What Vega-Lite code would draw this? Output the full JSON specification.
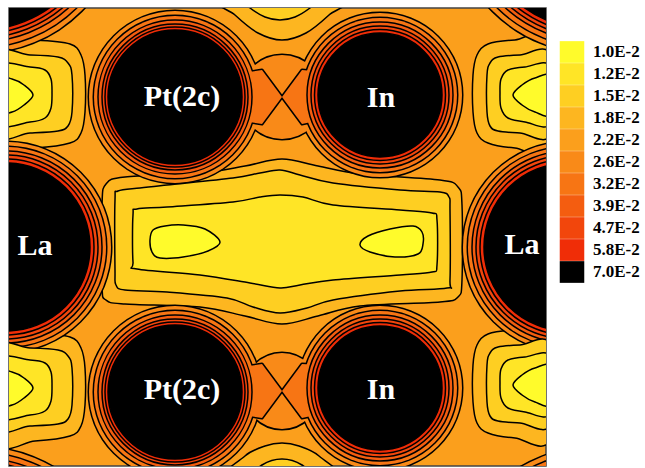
{
"$schema":"https://vega.github.io/schema/vega-lite/v6.json",
"width":537,"height":458,
"autosize":"none",
"padding":{"left":9,"top":8,"right":99,"bottom":2},
"background":"white",
"config":{"view":{"fill":"#FB9F1C","stroke":"#444","strokeWidth":1.5},
"legend":{"orient":"none","legendX":552,"legendY":33,"title":null,"symbolType":"M-1.13,-1H1.13V1H-1.13Z","symbolSize":471,"symbolStrokeWidth":0,"symbolOpacity":1,"rowPadding":0,"labelFont":"Liberation Serif","labelFontWeight":"bold","labelFontSize":17,"labelColor":"#000","labelOffset":10,"padding":0,"labelLimit":200}},
"datasets":{
"rings":[
{"lev":"2.6E-2","x":175,"y":97,"r":86},{"lev":"2.6E-2","x":380,"y":95,"r":82},{"lev":"2.6E-2","x":175,"y":392,"r":86},{"lev":"2.6E-2","x":380,"y":388,"r":82},
{"lev":"2.6E-2","x":6,"y":247,"r":105},{"lev":"2.6E-2","x":568,"y":247,"r":105},
{"lev":"2.6E-2","x":-20,"y":-90,"r":143},{"lev":"2.6E-2","x":-20,"y":590,"r":143},{"lev":"2.6E-2","x":594,"y":-90,"r":143},{"lev":"2.6E-2","x":594,"y":590,"r":143},
{"lev":"2.6E-2","x":282,"y":97,"r":42},{"lev":"2.6E-2","x":282,"y":391,"r":38},
{"lev":"3.2E-2","x":175,"y":97,"r":81},{"lev":"3.2E-2","x":380,"y":95,"r":77},{"lev":"3.2E-2","x":175,"y":392,"r":81},{"lev":"3.2E-2","x":380,"y":388,"r":77},
{"lev":"3.2E-2","x":6,"y":247,"r":100},{"lev":"3.2E-2","x":568,"y":247,"r":100},
{"lev":"3.2E-2","x":-20,"y":-90,"r":137},{"lev":"3.2E-2","x":-20,"y":590,"r":137},{"lev":"3.2E-2","x":594,"y":-90,"r":137},{"lev":"3.2E-2","x":594,"y":590,"r":137},
{"lev":"3.9E-2","x":175,"y":97,"r":77},{"lev":"3.9E-2","x":380,"y":95,"r":73},{"lev":"3.9E-2","x":175,"y":392,"r":77},{"lev":"3.9E-2","x":380,"y":388,"r":73},
{"lev":"3.9E-2","x":6,"y":247,"r":96},{"lev":"3.9E-2","x":568,"y":247,"r":96},
{"lev":"3.9E-2","x":-20,"y":-90,"r":132},{"lev":"3.9E-2","x":-20,"y":590,"r":132},{"lev":"3.9E-2","x":594,"y":-90,"r":132},{"lev":"3.9E-2","x":594,"y":590,"r":132},
{"lev":"4.7E-2","x":175,"y":97,"r":73},{"lev":"4.7E-2","x":380,"y":95,"r":69},{"lev":"4.7E-2","x":175,"y":392,"r":73},{"lev":"4.7E-2","x":380,"y":388,"r":69},
{"lev":"4.7E-2","x":6,"y":247,"r":92},{"lev":"4.7E-2","x":568,"y":247,"r":92},
{"lev":"4.7E-2","x":-20,"y":-90,"r":128},{"lev":"4.7E-2","x":-20,"y":590,"r":128},{"lev":"4.7E-2","x":594,"y":-90,"r":128},{"lev":"4.7E-2","x":594,"y":590,"r":128},
{"lev":"5.8E-2","x":175,"y":97,"r":70},{"lev":"5.8E-2","x":380,"y":95,"r":65.5},{"lev":"5.8E-2","x":175,"y":392,"r":70},{"lev":"5.8E-2","x":380,"y":388,"r":65.5},
{"lev":"5.8E-2","x":6,"y":247,"r":88},{"lev":"5.8E-2","x":568,"y":247,"r":88},
{"lev":"5.8E-2","x":-20,"y":-90,"r":124},{"lev":"5.8E-2","x":-20,"y":590,"r":124},{"lev":"5.8E-2","x":594,"y":-90,"r":124},{"lev":"5.8E-2","x":594,"y":590,"r":124},
{"lev":"7.0E-2","x":175,"y":97,"r":67},{"lev":"7.0E-2","x":380,"y":95,"r":62},{"lev":"7.0E-2","x":175,"y":392,"r":67},{"lev":"7.0E-2","x":380,"y":388,"r":62},
{"lev":"7.0E-2","x":6,"y":247,"r":84},{"lev":"7.0E-2","x":568,"y":247,"r":84},
{"lev":"7.0E-2","x":-20,"y":-90,"r":120},{"lev":"7.0E-2","x":-20,"y":590,"r":120},{"lev":"7.0E-2","x":594,"y":-90,"r":120},{"lev":"7.0E-2","x":594,"y":590,"r":120}
],
"polys":[
{"id":"W1","lev":"3.2E-2","i":0,"x":230,"y":75},{"id":"W1","lev":"3.2E-2","i":1,"x":262,"y":70},{"id":"W1","lev":"3.2E-2","i":2,"x":282,"y":97},{"id":"W1","lev":"3.2E-2","i":3,"x":262,"y":124},{"id":"W1","lev":"3.2E-2","i":4,"x":230,"y":119},
{"id":"W2","lev":"3.2E-2","i":0,"x":334,"y":73},{"id":"W2","lev":"3.2E-2","i":1,"x":302,"y":70},{"id":"W2","lev":"3.2E-2","i":2,"x":282,"y":97},{"id":"W2","lev":"3.2E-2","i":3,"x":302,"y":124},{"id":"W2","lev":"3.2E-2","i":4,"x":334,"y":117},
{"id":"W3","lev":"3.2E-2","i":0,"x":230,"y":369},{"id":"W3","lev":"3.2E-2","i":1,"x":262,"y":364},{"id":"W3","lev":"3.2E-2","i":2,"x":282,"y":391},{"id":"W3","lev":"3.2E-2","i":3,"x":262,"y":418},{"id":"W3","lev":"3.2E-2","i":4,"x":230,"y":413},
{"id":"W4","lev":"3.2E-2","i":0,"x":334,"y":366},{"id":"W4","lev":"3.2E-2","i":1,"x":302,"y":364},{"id":"W4","lev":"3.2E-2","i":2,"x":282,"y":391},{"id":"W4","lev":"3.2E-2","i":3,"x":302,"y":418},{"id":"W4","lev":"3.2E-2","i":4,"x":334,"y":411},

{"id":"B18","lev":"1.8E-2","i":0,"x":102,"y":205},{"id":"B18","lev":"1.8E-2","i":1,"x":106,"y":184},{"id":"B18","lev":"1.8E-2","i":2,"x":125,"y":177},{"id":"B18","lev":"1.8E-2","i":3,"x":200,"y":173},{"id":"B18","lev":"1.8E-2","i":4,"x":245,"y":166},{"id":"B18","lev":"1.8E-2","i":5,"x":282,"y":159},{"id":"B18","lev":"1.8E-2","i":6,"x":318,"y":166},{"id":"B18","lev":"1.8E-2","i":7,"x":360,"y":174},{"id":"B18","lev":"1.8E-2","i":8,"x":440,"y":180},{"id":"B18","lev":"1.8E-2","i":9,"x":458,"y":187},{"id":"B18","lev":"1.8E-2","i":10,"x":462,"y":205},{"id":"B18","lev":"1.8E-2","i":11,"x":462,"y":280},{"id":"B18","lev":"1.8E-2","i":12,"x":458,"y":297},{"id":"B18","lev":"1.8E-2","i":13,"x":440,"y":302},{"id":"B18","lev":"1.8E-2","i":14,"x":360,"y":306},{"id":"B18","lev":"1.8E-2","i":15,"x":318,"y":316},{"id":"B18","lev":"1.8E-2","i":16,"x":282,"y":324},{"id":"B18","lev":"1.8E-2","i":17,"x":245,"y":316},{"id":"B18","lev":"1.8E-2","i":18,"x":200,"y":307},{"id":"B18","lev":"1.8E-2","i":19,"x":125,"y":304},{"id":"B18","lev":"1.8E-2","i":20,"x":106,"y":300},{"id":"B18","lev":"1.8E-2","i":21,"x":102,"y":285},
{"id":"LU18","lev":"1.8E-2","i":0,"x":-5,"y":40},{"id":"LU18","lev":"1.8E-2","i":1,"x":35,"y":40},{"id":"LU18","lev":"1.8E-2","i":2,"x":70,"y":44},{"id":"LU18","lev":"1.8E-2","i":3,"x":81,"y":55},{"id":"LU18","lev":"1.8E-2","i":4,"x":85,"y":75},{"id":"LU18","lev":"1.8E-2","i":5,"x":85,"y":112},{"id":"LU18","lev":"1.8E-2","i":6,"x":81,"y":133},{"id":"LU18","lev":"1.8E-2","i":7,"x":70,"y":143},{"id":"LU18","lev":"1.8E-2","i":8,"x":35,"y":148},{"id":"LU18","lev":"1.8E-2","i":9,"x":-5,"y":148},
{"id":"LL18","lev":"1.8E-2","i":0,"x":-5,"y":333},{"id":"LL18","lev":"1.8E-2","i":1,"x":35,"y":333},{"id":"LL18","lev":"1.8E-2","i":2,"x":70,"y":337},{"id":"LL18","lev":"1.8E-2","i":3,"x":81,"y":348},{"id":"LL18","lev":"1.8E-2","i":4,"x":85,"y":368},{"id":"LL18","lev":"1.8E-2","i":5,"x":85,"y":405},{"id":"LL18","lev":"1.8E-2","i":6,"x":81,"y":426},{"id":"LL18","lev":"1.8E-2","i":7,"x":70,"y":436},{"id":"LL18","lev":"1.8E-2","i":8,"x":35,"y":441},{"id":"LL18","lev":"1.8E-2","i":9,"x":-5,"y":441},
{"id":"RU18","lev":"1.8E-2","i":0,"x":551,"y":40},{"id":"RU18","lev":"1.8E-2","i":1,"x":515,"y":40},{"id":"RU18","lev":"1.8E-2","i":2,"x":488,"y":44},{"id":"RU18","lev":"1.8E-2","i":3,"x":477,"y":55},{"id":"RU18","lev":"1.8E-2","i":4,"x":473,"y":75},{"id":"RU18","lev":"1.8E-2","i":5,"x":473,"y":112},{"id":"RU18","lev":"1.8E-2","i":6,"x":477,"y":133},{"id":"RU18","lev":"1.8E-2","i":7,"x":488,"y":143},{"id":"RU18","lev":"1.8E-2","i":8,"x":515,"y":148},{"id":"RU18","lev":"1.8E-2","i":9,"x":551,"y":148},
{"id":"RL18","lev":"1.8E-2","i":0,"x":551,"y":330},{"id":"RL18","lev":"1.8E-2","i":1,"x":515,"y":330},{"id":"RL18","lev":"1.8E-2","i":2,"x":488,"y":334},{"id":"RL18","lev":"1.8E-2","i":3,"x":477,"y":345},{"id":"RL18","lev":"1.8E-2","i":4,"x":473,"y":365},{"id":"RL18","lev":"1.8E-2","i":5,"x":473,"y":402},{"id":"RL18","lev":"1.8E-2","i":6,"x":477,"y":423},{"id":"RL18","lev":"1.8E-2","i":7,"x":488,"y":433},{"id":"RL18","lev":"1.8E-2","i":8,"x":515,"y":438},{"id":"RL18","lev":"1.8E-2","i":9,"x":551,"y":438},
{"id":"T18","lev":"1.8E-2","i":0,"x":220,"y":-2},{"id":"T18","lev":"1.8E-2","i":1,"x":235,"y":15},{"id":"T18","lev":"1.8E-2","i":2,"x":258,"y":33},{"id":"T18","lev":"1.8E-2","i":3,"x":282,"y":40},{"id":"T18","lev":"1.8E-2","i":4,"x":306,"y":33},{"id":"T18","lev":"1.8E-2","i":5,"x":329,"y":15},{"id":"T18","lev":"1.8E-2","i":6,"x":344,"y":-2},
{"id":"Bt18","lev":"1.8E-2","i":0,"x":230,"y":478},{"id":"Bt18","lev":"1.8E-2","i":1,"x":245,"y":456},{"id":"Bt18","lev":"1.8E-2","i":2,"x":265,"y":446},{"id":"Bt18","lev":"1.8E-2","i":3,"x":282,"y":443},{"id":"Bt18","lev":"1.8E-2","i":4,"x":299,"y":446},{"id":"Bt18","lev":"1.8E-2","i":5,"x":319,"y":456},{"id":"Bt18","lev":"1.8E-2","i":6,"x":334,"y":478},

{"id":"LU15","lev":"1.5E-2","i":0,"x":-5,"y":55},{"id":"LU15","lev":"1.5E-2","i":1,"x":30,"y":55},{"id":"LU15","lev":"1.5E-2","i":2,"x":58,"y":57},{"id":"LU15","lev":"1.5E-2","i":3,"x":68,"y":63},{"id":"LU15","lev":"1.5E-2","i":4,"x":72,"y":75},{"id":"LU15","lev":"1.5E-2","i":5,"x":72,"y":112},{"id":"LU15","lev":"1.5E-2","i":6,"x":68,"y":126},{"id":"LU15","lev":"1.5E-2","i":7,"x":58,"y":131},{"id":"LU15","lev":"1.5E-2","i":8,"x":30,"y":133},{"id":"LU15","lev":"1.5E-2","i":9,"x":-5,"y":134},
{"id":"LL15","lev":"1.5E-2","i":0,"x":-5,"y":348},{"id":"LL15","lev":"1.5E-2","i":1,"x":30,"y":348},{"id":"LL15","lev":"1.5E-2","i":2,"x":58,"y":350},{"id":"LL15","lev":"1.5E-2","i":3,"x":68,"y":356},{"id":"LL15","lev":"1.5E-2","i":4,"x":72,"y":368},{"id":"LL15","lev":"1.5E-2","i":5,"x":72,"y":405},{"id":"LL15","lev":"1.5E-2","i":6,"x":68,"y":419},{"id":"LL15","lev":"1.5E-2","i":7,"x":58,"y":424},{"id":"LL15","lev":"1.5E-2","i":8,"x":30,"y":426},{"id":"LL15","lev":"1.5E-2","i":9,"x":-5,"y":427},
{"id":"RU15","lev":"1.5E-2","i":0,"x":551,"y":55},{"id":"RU15","lev":"1.5E-2","i":1,"x":520,"y":55},{"id":"RU15","lev":"1.5E-2","i":2,"x":498,"y":57},{"id":"RU15","lev":"1.5E-2","i":3,"x":490,"y":63},{"id":"RU15","lev":"1.5E-2","i":4,"x":487,"y":75},{"id":"RU15","lev":"1.5E-2","i":5,"x":487,"y":112},{"id":"RU15","lev":"1.5E-2","i":6,"x":490,"y":126},{"id":"RU15","lev":"1.5E-2","i":7,"x":498,"y":131},{"id":"RU15","lev":"1.5E-2","i":8,"x":520,"y":133},{"id":"RU15","lev":"1.5E-2","i":9,"x":551,"y":134},
{"id":"RL15","lev":"1.5E-2","i":0,"x":551,"y":345},{"id":"RL15","lev":"1.5E-2","i":1,"x":520,"y":345},{"id":"RL15","lev":"1.5E-2","i":2,"x":498,"y":347},{"id":"RL15","lev":"1.5E-2","i":3,"x":490,"y":353},{"id":"RL15","lev":"1.5E-2","i":4,"x":487,"y":365},{"id":"RL15","lev":"1.5E-2","i":5,"x":487,"y":402},{"id":"RL15","lev":"1.5E-2","i":6,"x":490,"y":416},{"id":"RL15","lev":"1.5E-2","i":7,"x":498,"y":421},{"id":"RL15","lev":"1.5E-2","i":8,"x":520,"y":423},{"id":"RL15","lev":"1.5E-2","i":9,"x":551,"y":424},
{"id":"B","lev":"1.5E-2","i":0,"x":115,"y":200},{"id":"B","lev":"1.5E-2","i":1,"x":118,"y":191},{"id":"B","lev":"1.5E-2","i":2,"x":140,"y":188},{"id":"B","lev":"1.5E-2","i":3,"x":167,"y":185},{"id":"B","lev":"1.5E-2","i":4,"x":233,"y":178},{"id":"B","lev":"1.5E-2","i":5,"x":260,"y":173},{"id":"B","lev":"1.5E-2","i":6,"x":280,"y":170},{"id":"B","lev":"1.5E-2","i":7,"x":300,"y":175},{"id":"B","lev":"1.5E-2","i":8,"x":333,"y":183},{"id":"B","lev":"1.5E-2","i":9,"x":400,"y":190},{"id":"B","lev":"1.5E-2","i":10,"x":440,"y":192},{"id":"B","lev":"1.5E-2","i":11,"x":449,"y":197},{"id":"B","lev":"1.5E-2","i":12,"x":450,"y":210},{"id":"B","lev":"1.5E-2","i":13,"x":450,"y":280},{"id":"B","lev":"1.5E-2","i":14,"x":447,"y":288},{"id":"B","lev":"1.5E-2","i":15,"x":400,"y":291},{"id":"B","lev":"1.5E-2","i":16,"x":333,"y":300},{"id":"B","lev":"1.5E-2","i":17,"x":307,"y":308},{"id":"B","lev":"1.5E-2","i":18,"x":280,"y":313},{"id":"B","lev":"1.5E-2","i":19,"x":253,"y":307},{"id":"B","lev":"1.5E-2","i":20,"x":227,"y":298},{"id":"B","lev":"1.5E-2","i":21,"x":167,"y":292},{"id":"B","lev":"1.5E-2","i":22,"x":125,"y":290},{"id":"B","lev":"1.5E-2","i":23,"x":116,"y":285},{"id":"B","lev":"1.5E-2","i":24,"x":115,"y":270},
{"id":"T","lev":"1.5E-2","i":0,"x":240,"y":-2},{"id":"T","lev":"1.5E-2","i":1,"x":250,"y":8},{"id":"T","lev":"1.5E-2","i":2,"x":265,"y":17},{"id":"T","lev":"1.5E-2","i":3,"x":280,"y":20},{"id":"T","lev":"1.5E-2","i":4,"x":295,"y":17},{"id":"T","lev":"1.5E-2","i":5,"x":310,"y":8},{"id":"T","lev":"1.5E-2","i":6,"x":320,"y":-2},
{"id":"Bt","lev":"1.5E-2","i":0,"x":252,"y":478},{"id":"Bt","lev":"1.5E-2","i":1,"x":262,"y":465},{"id":"Bt","lev":"1.5E-2","i":2,"x":282,"y":459},{"id":"Bt","lev":"1.5E-2","i":3,"x":302,"y":465},{"id":"Bt","lev":"1.5E-2","i":4,"x":312,"y":478},

{"id":"LU12","lev":"1.2E-2","i":0,"x":-5,"y":67},{"id":"LU12","lev":"1.2E-2","i":1,"x":30,"y":67},{"id":"LU12","lev":"1.2E-2","i":2,"x":45,"y":70},{"id":"LU12","lev":"1.2E-2","i":3,"x":51,"y":79},{"id":"LU12","lev":"1.2E-2","i":4,"x":52,"y":93},{"id":"LU12","lev":"1.2E-2","i":5,"x":51,"y":108},{"id":"LU12","lev":"1.2E-2","i":6,"x":45,"y":118},{"id":"LU12","lev":"1.2E-2","i":7,"x":30,"y":122},{"id":"LU12","lev":"1.2E-2","i":8,"x":-5,"y":123},
{"id":"LL12","lev":"1.2E-2","i":0,"x":-5,"y":360},{"id":"LL12","lev":"1.2E-2","i":1,"x":30,"y":360},{"id":"LL12","lev":"1.2E-2","i":2,"x":45,"y":363},{"id":"LL12","lev":"1.2E-2","i":3,"x":51,"y":372},{"id":"LL12","lev":"1.2E-2","i":4,"x":52,"y":386},{"id":"LL12","lev":"1.2E-2","i":5,"x":51,"y":401},{"id":"LL12","lev":"1.2E-2","i":6,"x":45,"y":411},{"id":"LL12","lev":"1.2E-2","i":7,"x":30,"y":415},{"id":"LL12","lev":"1.2E-2","i":8,"x":-5,"y":416},
{"id":"RU12","lev":"1.2E-2","i":0,"x":551,"y":67},{"id":"RU12","lev":"1.2E-2","i":1,"x":525,"y":67},{"id":"RU12","lev":"1.2E-2","i":2,"x":508,"y":70},{"id":"RU12","lev":"1.2E-2","i":3,"x":501,"y":79},{"id":"RU12","lev":"1.2E-2","i":4,"x":500,"y":93},{"id":"RU12","lev":"1.2E-2","i":5,"x":501,"y":108},{"id":"RU12","lev":"1.2E-2","i":6,"x":508,"y":118},{"id":"RU12","lev":"1.2E-2","i":7,"x":525,"y":122},{"id":"RU12","lev":"1.2E-2","i":8,"x":551,"y":123},
{"id":"RL12","lev":"1.2E-2","i":0,"x":551,"y":357},{"id":"RL12","lev":"1.2E-2","i":1,"x":525,"y":357},{"id":"RL12","lev":"1.2E-2","i":2,"x":508,"y":360},{"id":"RL12","lev":"1.2E-2","i":3,"x":501,"y":369},{"id":"RL12","lev":"1.2E-2","i":4,"x":500,"y":383},{"id":"RL12","lev":"1.2E-2","i":5,"x":501,"y":398},{"id":"RL12","lev":"1.2E-2","i":6,"x":508,"y":408},{"id":"RL12","lev":"1.2E-2","i":7,"x":525,"y":412},{"id":"RL12","lev":"1.2E-2","i":8,"x":551,"y":413},
{"id":"C","lev":"1.2E-2","i":0,"x":133,"y":215},{"id":"C","lev":"1.2E-2","i":1,"x":137,"y":209},{"id":"C","lev":"1.2E-2","i":2,"x":167,"y":207},{"id":"C","lev":"1.2E-2","i":3,"x":233,"y":202},{"id":"C","lev":"1.2E-2","i":4,"x":260,"y":197},{"id":"C","lev":"1.2E-2","i":5,"x":280,"y":195},{"id":"C","lev":"1.2E-2","i":6,"x":303,"y":197},{"id":"C","lev":"1.2E-2","i":7,"x":333,"y":205},{"id":"C","lev":"1.2E-2","i":8,"x":400,"y":210},{"id":"C","lev":"1.2E-2","i":9,"x":432,"y":213},{"id":"C","lev":"1.2E-2","i":10,"x":437,"y":220},{"id":"C","lev":"1.2E-2","i":11,"x":437,"y":265},{"id":"C","lev":"1.2E-2","i":12,"x":432,"y":272},{"id":"C","lev":"1.2E-2","i":13,"x":400,"y":275},{"id":"C","lev":"1.2E-2","i":14,"x":333,"y":280},{"id":"C","lev":"1.2E-2","i":15,"x":300,"y":285},{"id":"C","lev":"1.2E-2","i":16,"x":280,"y":288},{"id":"C","lev":"1.2E-2","i":17,"x":250,"y":283},{"id":"C","lev":"1.2E-2","i":18,"x":200,"y":275},{"id":"C","lev":"1.2E-2","i":19,"x":137,"y":269},{"id":"C","lev":"1.2E-2","i":20,"x":133,"y":262},

{"id":"LU10","lev":"1.0E-2","i":0,"x":-5,"y":78},{"id":"LU10","lev":"1.0E-2","i":1,"x":12,"y":79},{"id":"LU10","lev":"1.0E-2","i":2,"x":24,"y":85},{"id":"LU10","lev":"1.0E-2","i":3,"x":33,"y":95},{"id":"LU10","lev":"1.0E-2","i":4,"x":24,"y":105},{"id":"LU10","lev":"1.0E-2","i":5,"x":12,"y":112},{"id":"LU10","lev":"1.0E-2","i":6,"x":-5,"y":113},
{"id":"LL10","lev":"1.0E-2","i":0,"x":-5,"y":371},{"id":"LL10","lev":"1.0E-2","i":1,"x":12,"y":372},{"id":"LL10","lev":"1.0E-2","i":2,"x":24,"y":378},{"id":"LL10","lev":"1.0E-2","i":3,"x":33,"y":388},{"id":"LL10","lev":"1.0E-2","i":4,"x":24,"y":398},{"id":"LL10","lev":"1.0E-2","i":5,"x":12,"y":405},{"id":"LL10","lev":"1.0E-2","i":6,"x":-5,"y":406},
{"id":"RU10","lev":"1.0E-2","i":0,"x":551,"y":77},{"id":"RU10","lev":"1.0E-2","i":1,"x":535,"y":78},{"id":"RU10","lev":"1.0E-2","i":2,"x":522,"y":85},{"id":"RU10","lev":"1.0E-2","i":3,"x":513,"y":95},{"id":"RU10","lev":"1.0E-2","i":4,"x":522,"y":105},{"id":"RU10","lev":"1.0E-2","i":5,"x":535,"y":112},{"id":"RU10","lev":"1.0E-2","i":6,"x":551,"y":114},
{"id":"RL10","lev":"1.0E-2","i":0,"x":551,"y":367},{"id":"RL10","lev":"1.0E-2","i":1,"x":535,"y":368},{"id":"RL10","lev":"1.0E-2","i":2,"x":522,"y":375},{"id":"RL10","lev":"1.0E-2","i":3,"x":513,"y":385},{"id":"RL10","lev":"1.0E-2","i":4,"x":522,"y":395},{"id":"RL10","lev":"1.0E-2","i":5,"x":535,"y":402},{"id":"RL10","lev":"1.0E-2","i":6,"x":551,"y":404},
{"id":"L1","lev":"1.0E-2","i":0,"x":150,"y":240},{"id":"L1","lev":"1.0E-2","i":1,"x":153,"y":230},{"id":"L1","lev":"1.0E-2","i":2,"x":165,"y":226},{"id":"L1","lev":"1.0E-2","i":3,"x":183,"y":225},{"id":"L1","lev":"1.0E-2","i":4,"x":205,"y":229},{"id":"L1","lev":"1.0E-2","i":5,"x":220,"y":242},{"id":"L1","lev":"1.0E-2","i":6,"x":208,"y":251},{"id":"L1","lev":"1.0E-2","i":7,"x":183,"y":257},{"id":"L1","lev":"1.0E-2","i":8,"x":160,"y":258},{"id":"L1","lev":"1.0E-2","i":9,"x":152,"y":252},
{"id":"L2","lev":"1.0E-2","i":0,"x":360,"y":245},{"id":"L2","lev":"1.0E-2","i":1,"x":368,"y":236},{"id":"L2","lev":"1.0E-2","i":2,"x":390,"y":229},{"id":"L2","lev":"1.0E-2","i":3,"x":413,"y":226},{"id":"L2","lev":"1.0E-2","i":4,"x":422,"y":232},{"id":"L2","lev":"1.0E-2","i":5,"x":423,"y":244},{"id":"L2","lev":"1.0E-2","i":6,"x":418,"y":254},{"id":"L2","lev":"1.0E-2","i":7,"x":395,"y":257},{"id":"L2","lev":"1.0E-2","i":8,"x":370,"y":252}
],
"labels":[
{"t":"Pt(2c)","x":182,"y":106},{"t":"In","x":381,"y":107},{"t":"La","x":35,"y":255},{"t":"La","x":522,"y":254},{"t":"Pt(2c)","x":182,"y":399},{"t":"In","x":381,"y":399}
]
},
"encoding":{
"x":{"field":"x","type":"quantitative","scale":{"domain":[9,546],"nice":false,"zero":false},"axis":null},
"y":{"field":"y","type":"quantitative","scale":{"domain":[8,466],"nice":false,"zero":false,"reverse":true},"axis":null}
},
"layer":[
{"data":{"name":"polys"},"transform":[{"filter":{"field":"lev","equal":"1.8E-2"}}],
"mark":{"type":"line","interpolate":"cardinal-closed","fill":"#FDB620","stroke":"black","strokeWidth":1.5,"opacity":1,"clip":true},
"encoding":{"detail":{"field":"id","type":"nominal"},"order":{"field":"i","type":"quantitative"}}},
{"data":{"name":"rings"},"transform":[{"filter":{"field":"lev","equal":"2.6E-2"}}],
"mark":{"type":"point","shape":"circle","filled":true,"opacity":1,"stroke":"black","strokeWidth":3,"clip":true},
"encoding":{"fill":{"field":"lev","type":"nominal","scale":{"domain":["1.0E-2","1.2E-2","1.5E-2","1.8E-2","2.2E-2","2.6E-2","3.2E-2","3.9E-2","4.7E-2","5.8E-2","7.0E-2"],"range":["#FFFB2B","#FFE526","#FECF22","#FDB620","#FB9F1C","#F98A18","#F77514","#F45D10","#F2460C","#F02D07","#000000"]},
"legend":{"labelFont":"Liberation Serif","labelFontWeight":"bold","labelFontSize":17,"labelColor":"#000"}},
"size":{"field":"r","type":"quantitative","scale":{"type":"pow","exponent":2,"domain":[0,100],"range":[0,40000],"clamp":false},"legend":null}}},
{"data":{"name":"rings"},"transform":[{"filter":{"field":"lev","equal":"2.6E-2"}}],
"mark":{"type":"point","shape":"circle","filled":true,"opacity":1,"strokeWidth":0,"clip":true},
"encoding":{"fill":{"field":"lev","type":"nominal"},"size":{"field":"r","type":"quantitative","legend":null}}},
{"data":{"name":"polys"},"transform":[{"filter":{"field":"lev","equal":"3.2E-2"}}],
"mark":{"type":"line","interpolate":"linear-closed","fill":"#F77514","stroke":"black","strokeWidth":3,"strokeJoin":"round","opacity":1,"clip":true},
"encoding":{"detail":{"field":"id","type":"nominal"},"order":{"field":"i","type":"quantitative"}}},
{"data":{"name":"rings"},"transform":[{"filter":{"field":"lev","equal":"3.2E-2"}}],
"mark":{"type":"point","shape":"circle","filled":true,"opacity":1,"stroke":"black","strokeWidth":3,"clip":true},
"encoding":{"fill":{"field":"lev","type":"nominal"},"size":{"field":"r","type":"quantitative","legend":null}}},
{"data":{"name":"polys"},"transform":[{"filter":{"field":"lev","equal":"3.2E-2"}}],
"mark":{"type":"line","interpolate":"linear-closed","fill":"#F77514","strokeWidth":0,"strokeOpacity":0,"opacity":1,"clip":true},
"encoding":{"detail":{"field":"id","type":"nominal"},"order":{"field":"i","type":"quantitative"}}},
{"data":{"name":"rings"},"transform":[{"filter":{"field":"lev","equal":"3.2E-2"}}],
"mark":{"type":"point","shape":"circle","filled":true,"opacity":1,"strokeWidth":0,"clip":true},
"encoding":{"fill":{"field":"lev","type":"nominal"},"size":{"field":"r","type":"quantitative","legend":null}}},
{"data":{"name":"rings"},"transform":[{"filter":{"field":"lev","oneOf":["3.9E-2","4.7E-2","5.8E-2","7.0E-2"]}}],
"mark":{"type":"point","shape":"circle","filled":true,"opacity":1,"stroke":"black","strokeWidth":1.5,"clip":true},
"encoding":{"fill":{"field":"lev","type":"nominal"},"size":{"field":"r","type":"quantitative","legend":null}}},
{"data":{"name":"polys"},"transform":[{"filter":{"field":"lev","equal":"1.5E-2"}}],
"mark":{"type":"line","interpolate":"cardinal-closed","fill":"#FECF22","stroke":"black","strokeWidth":1.5,"opacity":1,"clip":true},
"encoding":{"detail":{"field":"id","type":"nominal"},"order":{"field":"i","type":"quantitative"}}},
{"data":{"name":"polys"},"transform":[{"filter":{"field":"lev","equal":"1.2E-2"}}],
"mark":{"type":"line","interpolate":"cardinal-closed","fill":"#FFE526","stroke":"black","strokeWidth":1.5,"opacity":1,"clip":true},
"encoding":{"detail":{"field":"id","type":"nominal"},"order":{"field":"i","type":"quantitative"}}},
{"data":{"name":"polys"},"transform":[{"filter":{"field":"lev","equal":"1.0E-2"}}],
"mark":{"type":"line","interpolate":"cardinal-closed","fill":"#FFFB2B","stroke":"black","strokeWidth":1.5,"opacity":1,"clip":true},
"encoding":{"detail":{"field":"id","type":"nominal"},"order":{"field":"i","type":"quantitative"}}},
{"data":{"name":"labels"},
"mark":{"type":"text","font":"Liberation Serif","fontWeight":"bold","fontSize":30,"fill":"white","align":"center","baseline":"alphabetic"},
"encoding":{"text":{"field":"t","type":"nominal"}}}
]
}
